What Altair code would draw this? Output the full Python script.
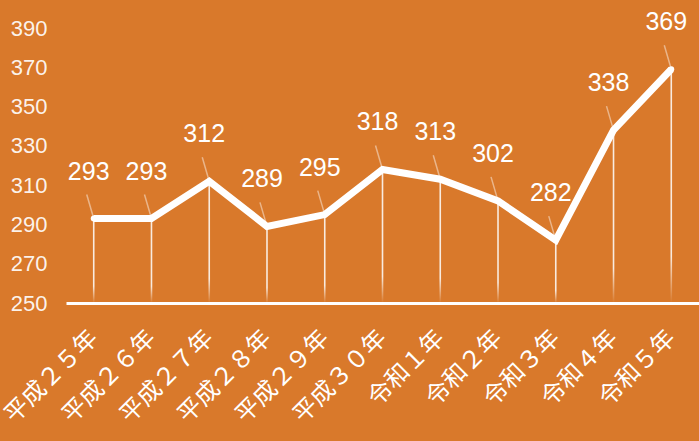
import altair as alt
import pandas as pd

years = ["平成２５年", "平成２６年", "平成２７年", "平成２８年", "平成２９年", "平成３０年",
         "令和１年", "令和２年", "令和３年", "令和４年", "令和５年"]
values = [293, 293, 312, 289, 295, 318, 313, 302, 282, 338, 369]
y_ticks = [250, 270, 290, 310, 330, 350, 370, 390]

BG = "#D9792B"

df = pd.DataFrame({"year": years, "value": values})

x = alt.X("year:N", sort=years,
          scale=alt.Scale(type="point", padding=0.48),
          axis=alt.Axis(title=None, labelAngle=-45, labelAlign="right", labelBaseline="middle",
                        labelFont="Noto Sans CJK JP", labelFontSize=24, labelColor="white",
                        labelPadding=31, ticks=False, tickSize=0, domainColor="white",
                        domainWidth=3, grid=False))
y = alt.Y("value:Q",
          scale=alt.Scale(domain=[250, 390], nice=False, zero=False),
          axis=alt.Axis(values=y_ticks, title=None, domain=False, ticks=False, tickSize=0,
                        grid=False, labelFont="Liberation Sans", labelFontSize=22,
                        labelColor="white", labelOpacity=0.92, labelPadding=19))

base = alt.Chart(df)

drops = base.mark_bar(
    size=1.6, opacity=0.85,
    color=alt.Gradient(gradient="linear",
                       stops=[alt.GradientStop(color="white", offset=0),
                              alt.GradientStop(color="white", offset=0.8),
                              alt.GradientStop(color="rgba(255,255,255,0)", offset=1)],
                       x1=0, x2=0, y1=0, y2=1)
).encode(x=x, y=y, y2=alt.datum(250))

line = base.mark_line(color="white", strokeWidth=7).encode(x=x, y=y)

pts = base.mark_point(filled=True, size=35, color="white", opacity=1).encode(x=x, y=y)

leaders = base.mark_rule(color="white", opacity=0.45, strokeWidth=1.5,
                         x2Offset=-7, y2Offset=-24).encode(
    x=x, y=y, x2=alt.X2("year:N"), y2=alt.Y2("value:Q"))

labels = base.mark_text(dy=-47, dx=-5, fontSize=25, font="Liberation Sans",
                        color="white", baseline="middle").encode(
    x=x, y=y, text=alt.Text("value:Q"))

chart = alt.layer(drops, line, pts, leaders, labels).properties(
    width=633, height=275,
    background=BG,
    padding={"left": 66, "top": 28, "right": 0, "bottom": 138},
    autosize=alt.AutoSizeParams(type="none"),
).configure_view(stroke=None)

chart.save("out.html", embed_options={"renderer": "svg", "actions": False})
